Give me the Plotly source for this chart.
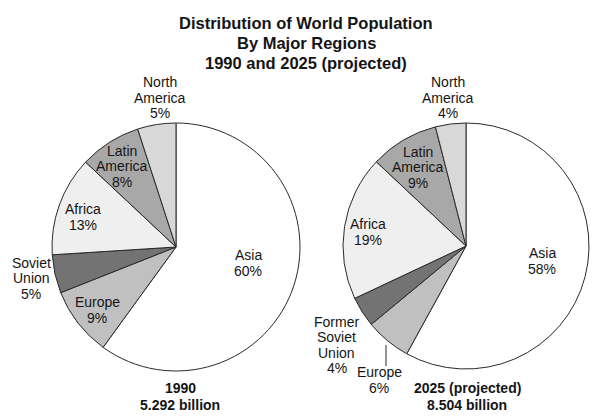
import plotly.graph_objects as go

W, H = 602, 420

regions_1990 = ["Asia", "Europe", "Soviet Union", "Africa", "Latin America", "North America"]
share_1990 = [60, 9, 5, 13, 8, 5]

regions_2025 = ["Asia", "Europe", "Former Soviet Union", "Africa", "Latin America", "North America"]
share_2025 = [58, 6, 4, 19, 9, 4]

slice_colors = ["#ffffff", "#c0c0c0", "#737373", "#efefef", "#a8a8a8", "#d8d8d8"]

title_lines = ["Distribution of World Population", "By Major Regions", "1990 and 2025 (projected)"]
caption_1990 = ["1990", "5.292 billion"]
caption_2025 = ["2025 (projected)", "8.504 billion"]

# label block centres in pixels, and how each name is broken into lines
label_pos_1990 = [(248, 263), (97, 310), (31, 278), (83, 217), (122, 166), (160, 98)]
label_pos_2025 = [(542, 261), (379, 380), (337, 345), (368, 232), (418, 167), (448, 98)]
line_breaks = {
    "Soviet Union": ["Soviet", "Union"],
    "Former Soviet Union": ["Former", "Soviet", "Union"],
    "Latin America": ["Latin", "America"],
    "North America": ["North", "America"],
}

FONT = "Liberation Sans, Arial, sans-serif"


def px_x(x):
    return x / W


def px_y(y):
    return 1 - y / H


def text_block(lines, cx, cy, size=14, bold=False, spacing=15.5):
    out = []
    top = cy - spacing * (len(lines) - 1) / 2
    for i, s in enumerate(lines):
        out.append(dict(
            x=px_x(cx), y=px_y(top + i * spacing), xref="paper", yref="paper",
            text="<b>%s</b>" % s if bold else s, showarrow=False,
            xanchor="center", yanchor="middle",
            font=dict(family=FONT, size=size, color="#151515"),
        ))
    return out


def pie(labels, values, cx, cy, r):
    return go.Pie(
        labels=labels, values=values, sort=False, direction="clockwise", rotation=0,
        marker=dict(colors=slice_colors, line=dict(color="#2a2a2a", width=1)),
        textinfo="none", hoverinfo="label+percent", showlegend=False,
        domain=dict(x=[px_x(cx - r), px_x(cx + r)], y=[px_y(cy + r), px_y(cy - r)]),
    )


fig = go.Figure()
fig.add_trace(pie(regions_1990, share_1990, 176, 247, 124))
fig.add_trace(pie(regions_2025, share_2025, 466, 246, 123))

annotations = []
annotations += text_block(title_lines, 306, 43, size=16.5, bold=True, spacing=20)
for names, vals, positions in [(regions_1990, share_1990, label_pos_1990),
                               (regions_2025, share_2025, label_pos_2025)]:
    for name, v, (cx, cy) in zip(names, vals, positions):
        lines = line_breaks.get(name, [name]) + ["%d%%" % v]
        annotations += text_block(lines, cx, cy)
annotations += text_block(caption_1990, 180, 396, bold=True, spacing=17)
annotations += text_block(caption_2025, 467, 396, bold=True, spacing=17)

fig.update_layout(
    width=W, height=H,
    margin=dict(l=0, r=0, t=0, b=0),
    paper_bgcolor="white", plot_bgcolor="white",
    annotations=annotations,
    shapes=[dict(type="line", xref="paper", yref="paper",
                 x0=px_x(386), x1=px_x(386), y0=px_y(345), y1=px_y(366),
                 line=dict(color="#2a2a2a", width=1))],
)

# page body has an 8px default margin; drop it so the figure fills the window
fig.write_html("out.html", post_script="document.body.style.margin='0';",
               config={"displayModeBar": False})
